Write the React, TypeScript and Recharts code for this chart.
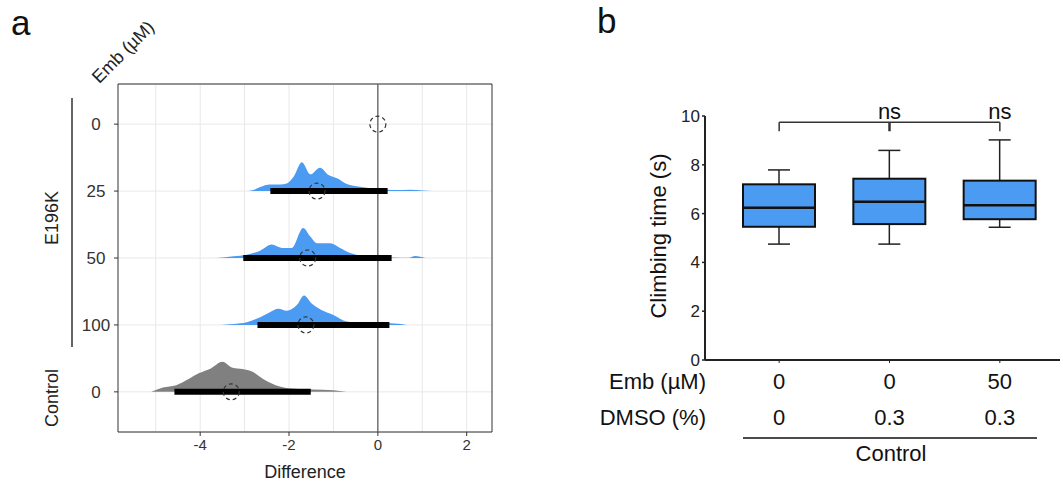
import React from 'react';
import {
  ComposedChart, Area, Line, Scatter, XAxis, YAxis, CartesianGrid,
  ReferenceLine, ReferenceArea, Bar, LabelList,
} from 'recharts';

const FONT = '"Liberation Sans", Arial, Helvetica, sans-serif';

// ---------------- Panel a data ----------------
// rows bottom -> top: Control 0, E196K 100, 50, 25, 0
const rowLabels = ['0', '100', '50', '25', '0'];
const xTicksA = [-4, -2, 0, 2];
const minorTicksA = [-5, -3, -1, 1];
const xDomainA: [number, number] = [-5.85, 2.57];

const dens25X = [-2.92, -2.78, -2.65, -2.43, -2.2, -2.05, -1.9, -1.71, -1.52, -1.3, -1.11, -0.92, -0.7, -0.4, -0.02, 0.35, 0.73, 1.0, 1.22];
const dens25Y = [0, 0.02, 0.06, 0.1, 0.1, 0.115, 0.21, 0.43, 0.25, 0.35, 0.24, 0.19, 0.105, 0.065, 0.03, 0.015, 0.02, 0.01, 0];

const dens50X = [-3.63, -3.25, -2.95, -2.65, -2.39, -2.16, -1.94, -1.68, -1.52, -1.37, -1.07, -0.85, -0.62, -0.4, -0.02, 0.35, 0.7, 0.84, 1.07];
const dens50Y = [0, 0.025, 0.05, 0.11, 0.2, 0.15, 0.15, 0.45, 0.32, 0.22, 0.22, 0.15, 0.075, 0.04, 0.015, 0.008, 0.005, 0.03, 0];

const dens100X = [-3.53, -3.25, -2.95, -2.65, -2.43, -2.24, -2.05, -1.82, -1.66, -1.49, -1.26, -1.0, -0.7, -0.25, 0.28, 0.65];
const dens100Y = [0, 0.015, 0.04, 0.115, 0.19, 0.24, 0.21, 0.3, 0.44, 0.32, 0.22, 0.15, 0.05, 0.025, 0.025, 0];

const densCtrlX = [-5.1, -4.84, -4.54, -4.24, -4.02, -3.76, -3.5, -3.27, -3.05, -2.82, -2.6, -2.3, -1.93, -1.48, -1.0, -0.7];
const densCtrlY = [0, 0.065, 0.1, 0.2, 0.28, 0.35, 0.45, 0.36, 0.34, 0.3, 0.2, 0.1, 0.05, 0.035, 0.025, 0];

const meanDiff = [-3.3, -1.62, -1.58, -1.37, 0];
const ciLow = [-4.58, -2.71, -3.03, -2.42];
const ciHigh = [-1.51, 0.26, 0.31, 0.22];

const ridges = [
  { key: 'ctrl', row: 0, xs: densCtrlX, hs: densCtrlY, color: '#808080' },
  { key: 'e100', row: 1, xs: dens100X, hs: dens100Y, color: '#4C9BF3' },
  { key: 'e50', row: 2, xs: dens50X, hs: dens50Y, color: '#4C9BF3' },
  { key: 'e25', row: 3, xs: dens25X, hs: dens25Y, color: '#4C9BF3' },
];

const areaData: any[] = [];
ridges.forEach((r) => r.xs.forEach((x, i) => areaData.push({ x, [r.key]: r.row + r.hs[i] })));
areaData.sort((a, b) => a.x - b.x);

const meanData = meanDiff.map((m, i) => ({ x: m, y: i }));

// ---------------- Panel b data ----------------
const groupNames = ['g1', 'g2', 'g3'];
const embLabels = ['0', '0', '50'];
const dmsoLabels = ['0', '0.3', '0.3'];
const boxMin = [4.75, 4.75, 5.44];
const boxQ1 = [5.46, 5.57, 5.77];
const boxMedian = [6.24, 6.49, 6.34];
const boxQ3 = [7.2, 7.43, 7.35];
const boxMax = [7.79, 8.59, 9.02];
const sigLabels = ['', 'ns', 'ns'];
const bracketLevel = 9.74;
const yTicksB = [0, 2, 4, 6, 8, 10];

const boxData = groupNames.map((name, i) => ({
  name,
  range: [boxMin[i], boxMax[i]],
  min: boxMin[i], q1: boxQ1[i], med: boxMedian[i], q3: boxQ3[i], max: boxMax[i],
  bracket: bracketLevel,
  sig: sigLabels[i],
}));

const DashedCircle = (p: any) => (
  <circle cx={p.cx} cy={p.cy} r={8} fill="none" stroke="#333" strokeWidth={1.2} strokeDasharray="4 3" />
);

const YTickA = (p: any) => (
  <text x={p.x - 16} y={p.y} dy="0.36em" textAnchor="middle" fontSize={17} fill="#333" fontFamily={FONT}>
    {rowLabels[p.payload.value]}
  </text>
);

const verticalGen = (args: any) => {
  const all = [...minorTicksA, ...xTicksA];
  const ax = args?.xAxis;
  if (ax && typeof ax.scale === 'function') return all.map((t) => ax.scale(t));
  const off = args.offset;
  return all.map((t) => off.left + ((t - xDomainA[0]) / (xDomainA[1] - xDomainA[0])) * off.width);
};

const BoxShape = (p: any) => {
  const { x, y, width, height, payload } = p;
  const top = Math.min(y, y + height);
  const bottom = Math.max(y, y + height);
  const pix = (v: number) => top + ((payload.max - v) / (payload.max - payload.min)) * (bottom - top);
  const cx = x + width / 2;
  const cap = 11;
  return (
    <g>
      <line x1={cx} x2={cx} y1={pix(payload.max)} y2={pix(payload.q3)} stroke="#222" strokeWidth={1.5} />
      <line x1={cx} x2={cx} y1={pix(payload.q1)} y2={pix(payload.min)} stroke="#222" strokeWidth={1.5} />
      <line x1={cx - cap} x2={cx + cap} y1={pix(payload.max)} y2={pix(payload.max)} stroke="#222" strokeWidth={1.5} />
      <line x1={cx - cap} x2={cx + cap} y1={pix(payload.min)} y2={pix(payload.min)} stroke="#222" strokeWidth={1.5} />
      <rect x={x} y={pix(payload.q3)} width={width} height={pix(payload.q1) - pix(payload.q3)} fill="#4C9BF3" stroke="#111" strokeWidth={2} />
      <line x1={x} x2={x + width} y1={pix(payload.med)} y2={pix(payload.med)} stroke="#111" strokeWidth={2.5} />
    </g>
  );
};

const XTickB = (p: any) => {
  const i = p.index ?? p.payload.index;
  return (
    <g>
      <text x={p.x} y={p.y + 24} textAnchor="middle" fontSize={22} fill="#111" fontFamily={FONT}>{embLabels[i]}</text>
      <text x={p.x} y={p.y + 60} textAnchor="middle" fontSize={22} fill="#111" fontFamily={FONT}>{dmsoLabels[i]}</text>
    </g>
  );
};

const BracketDot = (p: any) => (
  <line key={`bd-${p.index}`} x1={p.cx} x2={p.cx} y1={p.cy} y2={p.cy + 9} stroke="#333" strokeWidth={p.index === 1 ? 2.5 : 1.5} />
);

export default function App() {
  return (
    <div style={{ position: 'absolute', left: 0, top: 0, width: 1063, height: 481, background: '#fff', fontFamily: FONT }}>
      <div style={{ position: 'absolute', left: 0, top: 0 }}>
        <ComposedChart width={520} height={481} data={areaData} margin={{ top: 84, right: 28, bottom: 19, left: 78 }}>
          <CartesianGrid stroke="#e8e8e8" strokeWidth={1} verticalCoordinatesGenerator={verticalGen} />
          <XAxis
            type="number" dataKey="x" domain={xDomainA} ticks={xTicksA} allowDataOverflow
            axisLine={false} tickSize={4} tickMargin={3}
            tickLine={{ stroke: '#333' }}
            tick={{ fontSize: 15, fill: '#333', fontFamily: FONT }}
            height={30}
          />
          <YAxis
            type="number" domain={[-0.6, 4.6]} ticks={[0, 1, 2, 3, 4]} allowDataOverflow
            axisLine={false} tickSize={4} tickMargin={2}
            tickLine={{ stroke: '#333' }}
            tick={<YTickA />}
            width={40}
          />
          {ridges.map((r) => (
            <Area
              key={r.key} dataKey={r.key} type="monotone" baseValue={r.row}
              fill={r.color} fillOpacity={1} stroke="none" connectNulls isAnimationActive={false}
            />
          ))}
          <ReferenceLine x={0} stroke="#555" strokeWidth={1.2} />
          {ciLow.map((lo, i) => (
            <Line
              key={`ci${i}`} data={[{ x: lo, y: i }, { x: ciHigh[i], y: i }]} dataKey="y"
              stroke="#000" strokeWidth={6} dot={false} isAnimationActive={false}
            />
          ))}
          <Scatter data={meanData} dataKey="y" shape={DashedCircle} isAnimationActive={false} />
          <ReferenceArea x1={xDomainA[0]} x2={xDomainA[1]} y1={-0.6} y2={4.6} fill="none" stroke="#333" strokeWidth={1} />
        </ComposedChart>
      </div>

      <div style={{ position: 'absolute', left: 560, top: 0 }}>
        <ComposedChart width={503} height={481} data={boxData} margin={{ top: 116, right: 3, bottom: 51, left: 105 }}>
          <XAxis
            dataKey="name" type="category" padding={{ left: 19, right: 5 }}
            axisLine={{ stroke: '#222', strokeWidth: 2 }} tickLine={{ stroke: '#222' }}
            tickSize={3} tickMargin={2} tick={<XTickB />} height={70} interval={0}
          />
          <YAxis
            type="number" domain={[0, 10]} ticks={yTicksB} allowDataOverflow
            axisLine={{ stroke: '#222', strokeWidth: 2 }} tickLine={{ stroke: '#222', strokeWidth: 1.5 }}
            tickSize={3} tickMargin={2}
            tick={{ fontSize: 17, fill: '#222', fontFamily: FONT }}
            width={40}
          />
          <Bar dataKey="range" barSize={72} shape={<BoxShape />} isAnimationActive={false} />
          <Line
            dataKey="bracket" stroke="#333" strokeWidth={1.5} dot={BracketDot} activeDot={false}
            isAnimationActive={false}
          >
            <LabelList dataKey="sig" position="top" offset={3} fontSize={22} fill="#111" fontFamily={FONT} />
          </Line>
        </ComposedChart>
      </div>

      <svg width={1063} height={481} style={{ position: 'absolute', left: 0, top: 0, pointerEvents: 'none' }} fontFamily={FONT}>
        <text x={11} y={35} fontSize={35} fill="#111">a</text>
        <text x={597} y={33} fontSize={35} fill="#111">b</text>
        <text x={123} y={52} fontSize={18} fill="#222" textAnchor="middle" dominantBaseline="central" transform="rotate(-45 123 52)">Emb (µM)</text>
        <text x={52} y={218} fontSize={18} fill="#222" textAnchor="middle" dominantBaseline="central" transform="rotate(-90 52 218)">E196K</text>
        <line x1={72} x2={72} y1={98} y2={347} stroke="#333" strokeWidth={1.5} />
        <text x={52} y={398} fontSize={18} fill="#222" textAnchor="middle" dominantBaseline="central" transform="rotate(-90 52 398)">Control</text>
        <text x={305} y={478} fontSize={18} fill="#222" textAnchor="middle">Difference</text>

        <text x={658} y={236} fontSize={22} fill="#111" textAnchor="middle" dominantBaseline="central" transform="rotate(-90 658 236)">Climbing time (s)</text>
        <text x={706} y={389} fontSize={22} fill="#111" textAnchor="end">Emb (µM)</text>
        <text x={706} y={425} fontSize={22} fill="#111" textAnchor="end">DMSO (%)</text>
        <line x1={743} x2={1037} y1={438} y2={438} stroke="#111" strokeWidth={1.5} />
        <text x={891} y={461} fontSize={22} fill="#111" textAnchor="middle">Control</text>
      </svg>
    </div>
  );
}
